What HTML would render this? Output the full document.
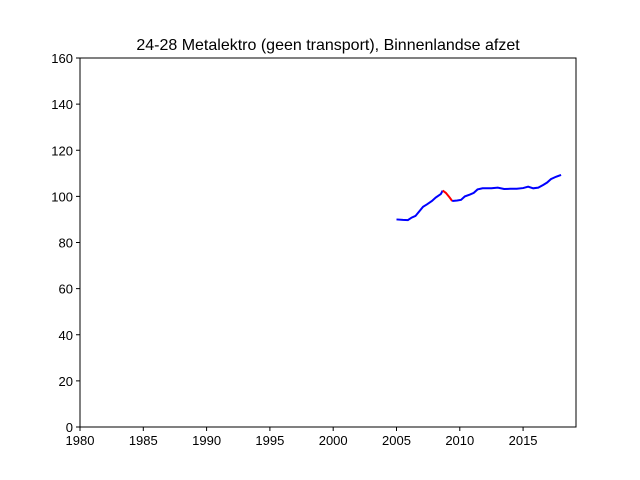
<!DOCTYPE html>
<html><head><meta charset="utf-8"><style>body{margin:0;background:#fff}svg{display:block;font-family:"Liberation Sans","DejaVu Sans",sans-serif}</style></head>
<body>
<svg id="c" width="640" height="480"></svg>
<script>
const years=[2005.0,2005.5,2005.9,2006.2,2006.5,2006.8,2007.1,2007.4,2007.8,2008.1,2008.5,2008.65,2008.9,2009.2,2009.4,2009.8,2010.1,2010.4,2010.8,2011.1,2011.4,2011.8,2012.5,2013.0,2013.5,2014.0,2014.5,2015.0,2015.4,2015.8,2016.2,2016.6,2016.9,2017.2,2017.6,2018.0];
const values=[90,89.8,89.7,90.8,91.5,93.5,95.5,96.5,98,99.5,101,102.5,101.5,99.5,98,98.2,98.5,100,100.8,101.5,103,103.5,103.5,103.8,103.2,103.3,103.3,103.6,104.2,103.5,103.8,105,106,107.5,108.5,109.3];
const redStart=2008.65, redEnd=2009.4;
const xTicks=[1980,1985,1990,1995,2000,2005,2010,2015];
const yTicks=[0,20,40,60,80,100,120,140,160];
const L=80,R=576,T=58,B=427,x0=1980,x1=2019.18,y0=0,y1=160;
const X=v=>L+(v-x0)/(x1-x0)*(R-L), Y=v=>B-(v-y0)/(y1-y0)*(B-T);
const s=document.getElementById('c'),NS='http://www.w3.org/2000/svg';
function mk(t,a,txt){const e=document.createElementNS(NS,t);for(const k in a)e.setAttribute(k,a[k]);if(txt!=null)e.textContent=txt;s.appendChild(e);return e;}
let e=mk('text',{x:328,y:50,'text-anchor':'middle','font-size':16},'24-28 Metalektro (geen transport), Binnenlandse afzet');


function seg(filter,color,name){const pts=years.map((y,i)=>[y,values[i]]).filter(p=>filter(p[0]));
 const p=mk('polyline',{points:pts.map(q=>X(q[0])+','+Y(q[1])).join(' '),fill:'none',stroke:color,'stroke-width':2});
 
 }
seg(y=>y<=redStart,'#0000ff','series-line-before');
seg(y=>y>=redStart&&y<=redEnd,'#ff0000','series-line-highlight');
seg(y=>y>=redEnd,'#0000ff','series-line-after');
e=mk('rect',{x:L,y:T,width:R-L,height:B-T,fill:'none',stroke:'#000','stroke-width':1});


xTicks.forEach(t=>{const x=X(t);mk('line',{x1:x,x2:x,y1:B,y2:B+4,stroke:'#000'});
 const l=mk('text',{x:x,y:B+18,'text-anchor':'middle','font-size':13},t);
 
 });
yTicks.forEach(t=>{const y=Y(t);mk('line',{x1:L-4,x2:L,y1:y,y2:y,stroke:'#000'});
 const l=mk('text',{x:L-7,y:y+5,'text-anchor':'end','font-size':13},t);
 
 });
</script>
</body></html>
